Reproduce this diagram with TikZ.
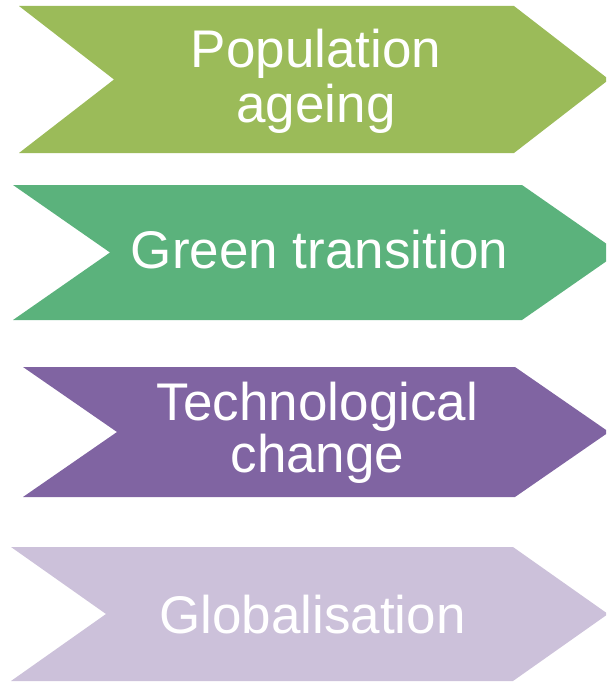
\documentclass[tikz,border=0pt]{standalone}
\usepackage{fontspec}
\setmainfont{Liberation Sans}
\definecolor{cOlive}{HTML}{9BBB59}
\definecolor{cGreen}{HTML}{5BB27C}
\definecolor{cPurple}{HTML}{8064A2}
\definecolor{cLilac}{HTML}{CCC1DA}
\tikzset{
  lbl/.style={anchor=base, text=white, inner sep=0pt, font=\fontsize{53}{54}\selectfont},
  chev/.style={draw=none}
}
\begin{document}
\begin{tikzpicture}[x=1pt,y=-1pt]
\useasboundingbox (0,0) rectangle (606,682);
\clip (0,0) rectangle (606,682);
% chevrons
\fill[chev, cOlive]  (19,6) -- (514,6) -- (609,79.5) -- (514,153) -- (19,153) -- (114,79.5) -- cycle;
\fill[chev, cGreen]  (13,185) -- (522,185) -- (619,252.5) -- (522,320) -- (13,320) -- (110,252.5) -- cycle;
\fill[chev, cPurple] (23,367) -- (515,367) -- (609,432) -- (515,497) -- (23,497) -- (117,432) -- cycle;
\fill[chev, cLilac]  (11,547) -- (513,547) -- (608,614) -- (513,681) -- (11,681) -- (106,614) -- cycle;
% labels
\node[lbl] (t1a) at (316,68) {Population};
\node[lbl] (t1b) at (316,122) {ageing};
\node[lbl] (t2) at (319.5,268) {Green transition};
\node[lbl] (t3a) at (317.5,420) {Technological};
\node[lbl] (t3b) at (317.5,472) {change};
\node[lbl] (t4) at (312.5,633) {Globalisation};
\end{tikzpicture}
\end{document}
